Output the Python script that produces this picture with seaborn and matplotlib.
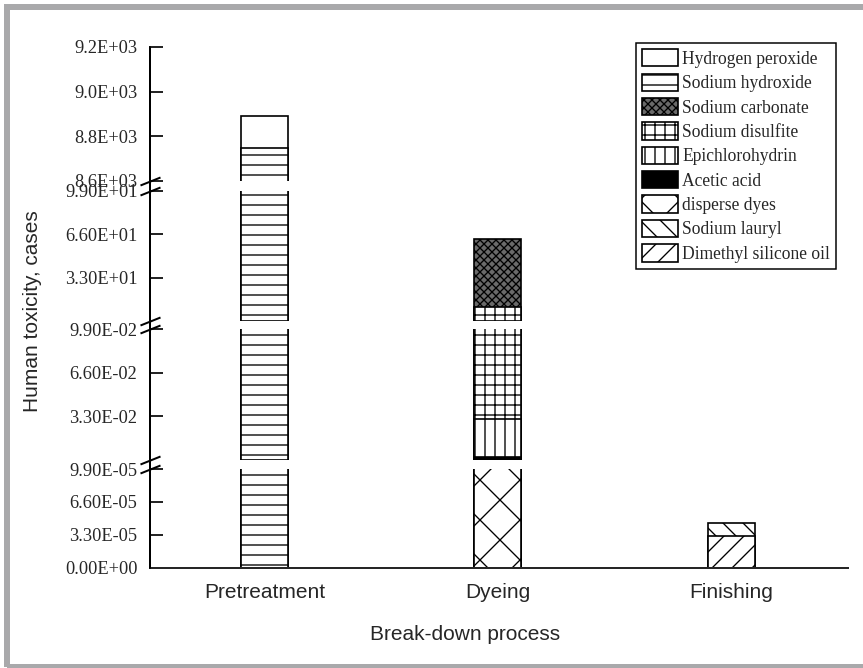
import matplotlib
matplotlib.use("Agg")
import matplotlib.pyplot as plt
from matplotlib.patches import Patch, Rectangle
from matplotlib.lines import Line2D
import pandas as pd
import seaborn as sb

# data
processes = ["Pretreatment", "Dyeing", "Finishing"]
pretreatment = {"Sodium hydroxide": 8750.0, "Hydrogen peroxide": 140.0}
dyeing = {"disperse dyes": 5.0e-4, "Acetic acid": 1.5e-3, "Epichlorohydrin": 0.029,
          "Sodium disulfite": 10.4, "Sodium carbonate": 52.0}
finishing = {"Dimethyl silicone oil": 3.2e-5, "Sodium lauryl": 1.25e-5}

legend_order = ["Hydrogen peroxide", "Sodium hydroxide", "Sodium carbonate", "Sodium disulfite",
                "Epichlorohydrin", "Acetic acid", "disperse dyes", "Sodium lauryl",
                "Dimethyl silicone oil"]

styles = {
    "Hydrogen peroxide": ("white", ""),
    "Sodium hydroxide": ("white", "--"),
    "Sodium carbonate": ("#6a6a6a", "xxxxx"),
    "Sodium disulfite": ("white", "++"),
    "Epichlorohydrin": ("white", "||"),
    "Acetic acid": ("black", ""),
    "disperse dyes": ("white", "x"),
    "Sodium lauryl": ("white", "\\\\"),
    "Dimethyl silicone oil": ("white", "//"),
}

# y ranges of the four broken-axis panels, top to bottom
panel_limits = [(8600, 9200), (0, 99), (0, 0.099), (0, 9.9e-5)]
panel_ticks = [[8600, 8800, 9000, 9200], [33, 66, 99], [0.033, 0.066, 0.099],
               [0, 3.3e-5, 6.6e-5, 9.9e-5]]
panel_fmt = ["{:.1E}", "{:.2E}", "{:.2E}", "{:.2E}"]

# long table with cumulative tops per process
rows = []
for proc, parts in zip(processes, [pretreatment, dyeing, finishing]):
    total = 0.0
    for name, val in parts.items():
        total += val
        rows.append({"process": proc, "substance": name, "value": val, "top": total})
df = pd.DataFrame(rows)

sb.set_style("ticks")
plt.rcParams["font.family"] = ["Liberation Serif", "DejaVu Serif"]
plt.rcParams["hatch.linewidth"] = 0.8

W, H = 863, 668
fig = plt.figure(figsize=(W / 120, H / 120), dpi=120)

left, right = 150 / W, 848 / W
panel_px = [(47, 181), (190.7, 321), (329, 460), (469, 567.5)]

axes = []
for i, (top_px, bot_px) in enumerate(panel_px):
    ax = fig.add_axes([left, 1 - bot_px / H, right - left, (bot_px - top_px) / H])
    lo, hi = panel_limits[i]
    # draw top substances first so lower segments cover them
    for name in reversed(df["substance"].tolist()):
        sub = df[(df["substance"] == name) & (df["top"] > lo + 1e-3 * (hi - lo))]
        if sub.empty:
            continue
        face, hatch = styles[name]
        sb.barplot(data=sub, x="process", y="top", order=processes, ax=ax,
                   color=face, saturation=1, width=0.2, hatch=hatch,
                   edgecolor="black", linewidth=1.0)
    ax.set_xlim(-0.49, 2.5)
    ax.set_ylim(lo, hi)
    ax.set_yticks(panel_ticks[i])
    ax.set_yticklabels([panel_fmt[i].format(t) for t in panel_ticks[i]], fontsize=11)
    ax.tick_params(axis="y", direction="in", length=8, width=1.2, pad=7.5)
    ax.set_xlabel("")
    ax.set_ylabel("")
    for s in ["top", "right"]:
        ax.spines[s].set_visible(False)
    ax.spines["left"].set_linewidth(1.2)
    if i < 3:
        ax.spines["bottom"].set_visible(False)
        ax.tick_params(axis="x", bottom=False, labelbottom=False)
    else:
        ax.spines["bottom"].set_linewidth(1.2)
        ax.set_xticks(range(len(processes)))
        ax.set_xticklabels(processes, fontsize=12.5, family="Liberation Sans")
        ax.tick_params(axis="x", length=0, pad=9)
    ax.patch.set_alpha(0)
    mark = dict(marker=[(-1, -0.4), (1, 0.4)], markersize=12, linestyle="none",
                color="k", mec="k", mew=1.2, clip_on=False, transform=ax.transAxes)
    if i > 0:
        ax.plot([0], [1], **mark)
    if i < 3:
        ax.plot([0], [0], **mark)
    axes.append(ax)

# continuous left axis line through the breaks
fig.add_artist(Line2D([left, left], [1 - 567.5 / H, 1 - 47 / H], color="k", lw=1.2,
                      transform=fig.transFigure))

handles = []
for name in legend_order:
    face, hatch = styles[name]
    handles.append(Patch(facecolor=face, edgecolor="black", hatch=hatch, linewidth=1.0, label=name))
leg = fig.legend(handles=handles, loc="upper left", bbox_to_anchor=(636 / W, 1 - 43 / H),
                 bbox_transform=fig.transFigure, borderaxespad=0, fontsize=10.5,
                 handlelength=2.05, handleheight=1.15, handletextpad=0.25,
                 labelspacing=0.33, borderpad=0.35, fancybox=False, framealpha=1,
                 edgecolor="black")
leg.get_frame().set_linewidth(0.9)

fig.text(465 / W, 1 - 634 / H, "Break-down process", ha="center", va="center",
         fontsize=12.5, family="Liberation Sans")
fig.text(33 / W, 1 - 311 / H, "Human toxicity, cases", ha="center", va="center",
         rotation=90, fontsize=12.5, family="Liberation Sans")

# grey frame around the picture
fig.add_artist(Rectangle((7 / W, 1 - 667 / H), 880 / W, 660 / H, fill=False,
                         edgecolor="#a9a9ab", lw=3.6, transform=fig.transFigure))

fig.savefig("out.png", dpi=120)
